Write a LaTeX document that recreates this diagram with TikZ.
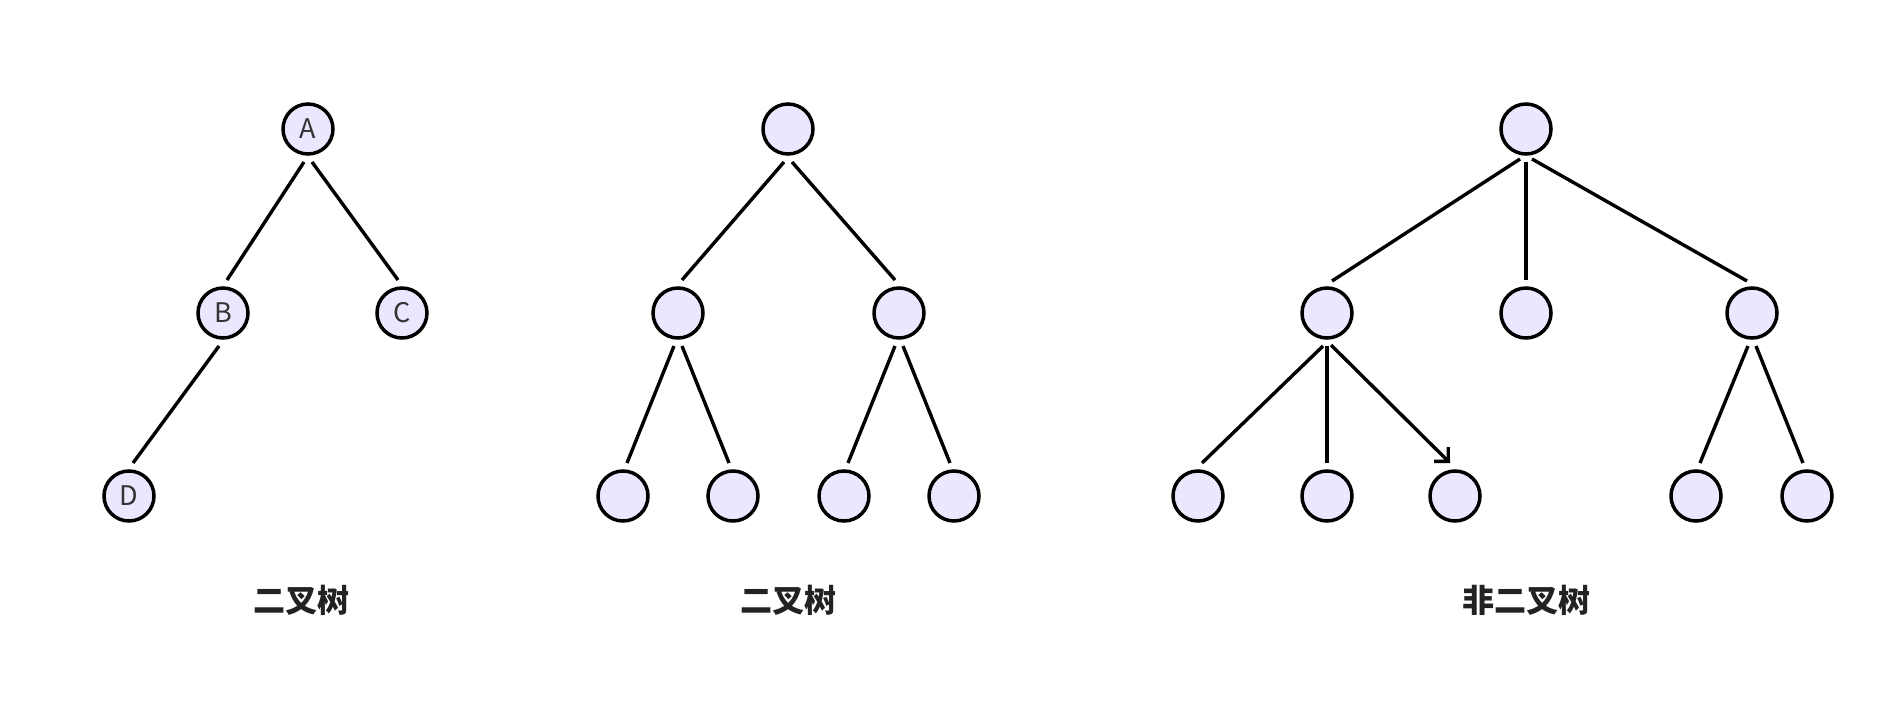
\documentclass[tikz,border=0pt]{standalone}
\usepackage{fontspec}
\newfontfamily\cjk{Noto Sans CJK SC}
\usetikzlibrary{calc,arrows.meta}
\definecolor{nodefill}{HTML}{ECE6FF}
\definecolor{nodetext}{HTML}{333333}
\definecolor{captext}{HTML}{222222}
\tikzset{
  tnode/.style={circle, draw=black, line width=3.5pt, fill=nodefill, minimum size=50pt, inner sep=0pt, font=\cjk\fontsize{27}{27}\selectfont, text=nodetext},
  tedge/.style={draw=black, line width=3.4pt},
  caption/.style={font=\cjk\bfseries\fontsize{32}{32}\selectfont, text=captext, inner sep=0pt},
}
\newcommand\tedgeline[4][]{\draw[tedge,#1] ($(#2)+(#4*4,33)$) -- ($(#3)+(-#4*4,-33)$);}
\begin{document}
\begin{tikzpicture}[x=1pt,y=-1pt]
\useasboundingbox (0,0) rectangle (1893,706);
% tree 1
\node[tnode] (A) at (308,129) {A};
\node[tnode] (B) at (223,313) {B};
\node[tnode] (C) at (402,313) {C};
\node[tnode] (D) at (129,496) {D};
\tedgeline{A}{B}{-1}
\tedgeline{A}{C}{1}
\tedgeline{B}{D}{-1}
\node[caption] (cap1) at (301,600) {二叉树};
% tree 2
\node[tnode] (r2) at (788,129) {};
\node[tnode] (l2) at (678,313) {};
\node[tnode] (m2) at (899,313) {};
\node[tnode] (l2a) at (623,496) {};
\node[tnode] (l2b) at (733,496) {};
\node[tnode] (m2a) at (844,496) {};
\node[tnode] (m2b) at (954,496) {};
\tedgeline{r2}{l2}{-1}
\tedgeline{r2}{m2}{1}
\tedgeline{l2}{l2a}{-1}
\tedgeline{l2}{l2b}{1}
\tedgeline{m2}{m2a}{-1}
\tedgeline{m2}{m2b}{1}
\node[caption] (cap2) at (788,600) {二叉树};
% tree 3
\node[tnode] (r3) at (1526,129) {};
\node[tnode] (c31) at (1327,313) {};
\node[tnode] (c32) at (1526,313) {};
\node[tnode] (c33) at (1752,313) {};
\node[tnode] (c31a) at (1198,496) {};
\node[tnode] (c31b) at (1327,496) {};
\node[tnode] (c31c) at (1455,496) {};
\node[tnode] (c33a) at (1696,496) {};
\node[tnode] (c33b) at (1807,496) {};
\draw[tedge] ($(r3)+(-6,30)$) -- ($(c31)+(5,-32)$);
\tedgeline{r3}{c32}{0}
\draw[tedge] ($(r3)+(6,30)$) -- ($(c33)+(-5,-32)$);
\tedgeline{c31}{c31a}{-1}
\tedgeline{c31}{c31b}{0}
\draw[tedge,-{Straight Barb[length=10pt,width=20pt]}] ($(c31)+(4,32)$) -- ($(c31c)+(-5,-33)$);
\tedgeline{c33}{c33a}{-1}
\tedgeline{c33}{c33b}{1}
\node[caption] (cap3) at (1526,600) {非二叉树};
\end{tikzpicture}
\end{document}
